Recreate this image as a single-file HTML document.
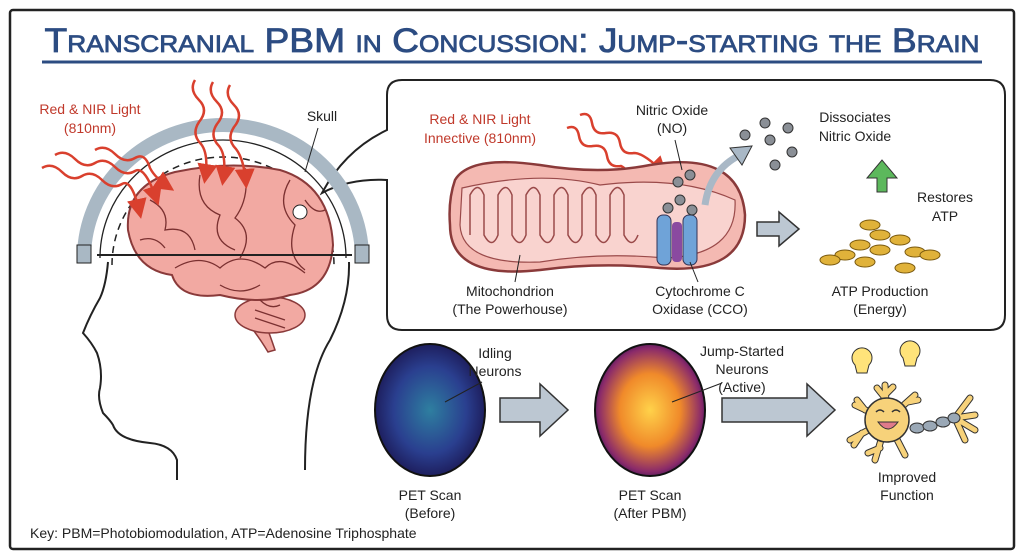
<!DOCTYPE html>
<html><head><meta charset="utf-8"><style>
body{margin:0;background:#fff;}
svg{display:block;font-family:"Liberation Sans",sans-serif;}
.t{font-size:14px;fill:#222;text-anchor:middle;}
.r{font-size:14px;fill:#c0392b;text-anchor:middle;}
</style></head><body>
<svg width="1024" height="559" viewBox="0 0 1024 559">
<defs>
<radialGradient id="pb" cx="50%" cy="50%" r="55%"><stop offset="0" stop-color="#2e7fa0"/><stop offset="0.6" stop-color="#2a3f8f"/><stop offset="1" stop-color="#1a1550"/></radialGradient>
<radialGradient id="po" cx="50%" cy="50%" r="55%"><stop offset="0" stop-color="#ffd24a"/><stop offset="0.5" stop-color="#f08a2a"/><stop offset="0.85" stop-color="#8a2a6a"/><stop offset="1" stop-color="#2a1050"/></radialGradient>
<marker id="ah" markerWidth="8" markerHeight="8" refX="6" refY="4" orient="auto"><path d="M0,0 L8,4 L0,8z" fill="#d9402e"/></marker>
</defs>
<rect x="10" y="10" width="1004" height="539" fill="none" stroke="#222" stroke-width="2.5" rx="3"/>
<text x="512" y="52" text-anchor="middle" font-size="34" fill="#2c4c82" stroke="#2c4c82" stroke-width="0.8" style="font-variant:small-caps" textLength="935" lengthAdjust="spacingAndGlyphs">Transcranial PBM in Concussion: Jump-starting the Brain</text>
<line x1="42" y1="62" x2="982" y2="62" stroke="#2c4c82" stroke-width="3"/>
<!-- right box -->
<path d="M402,80 H990 Q1005,80 1005,95 V315 Q1005,330 990,330 H402 Q387,330 387,315 V180 Q350,178 322,193 Q345,150 387,130 V95 Q387,80 402,80Z" fill="#fff" stroke="#222" stroke-width="2"/>
<!-- head silhouette -->
<path d="M108,262 Q106,285 100,298 Q90,315 83,333 Q92,343 97,353 Q103,370 100,388 Q97,398 103,413 Q110,420 113,425 Q118,440 150,443 Q172,445 177,460 L177,480" fill="none" stroke="#222" stroke-width="2"/>
<path d="M349,262 Q350,300 330,340 Q305,380 305,470" fill="none" stroke="#222" stroke-width="2"/>
<!-- skull -->
<path d="M84,258 A139,133 0 0 1 362,258" fill="none" stroke="#a9b8c4" stroke-width="14"/>
<path d="M77,245 h14 v18 h-14z M355,245 h14 v18 h-14z" fill="#a9b8c4" stroke="#222"/>
<path d="M100,258 A123,118 0 0 1 346,258" fill="none" stroke="#222" stroke-width="1.3"/>
<path d="M112,265 A111,108 0 0 1 334,265" fill="none" stroke="#222" stroke-width="1.5" stroke-dasharray="7,5"/>
<!-- brain -->
<path d="M255,300 Q265,320 275,350 L268,352 Q255,330 240,315z" fill="#f2a9a2" stroke="#8a3a3a" stroke-width="1.5"/>
<ellipse cx="270" cy="315" rx="35" ry="18" fill="#f2a9a2" stroke="#8a3a3a" stroke-width="1.5"/>
<path d="M128,230 Q125,185 175,172 Q230,160 280,170 Q330,185 333,245 Q330,290 290,295 Q260,305 220,295 Q180,300 172,275 Q135,270 128,230Z" fill="#f2a9a2" stroke="#8a3a3a" stroke-width="2"/>
<g fill="none" stroke="#7a3030" stroke-width="1.3">
<path d="M150,200 q20,10 15,30 q25,-5 30,20 M200,175 q-5,30 20,40 q-10,25 15,35 M245,168 q5,30 -10,50 q20,15 5,40 M290,180 q-15,25 5,45 q-10,30 10,45 M175,268 q25,-15 45,0 q20,-18 45,0 q15,-15 40,5 M220,285 q20,12 40,0 M140,240 q15,-5 25,8 M305,200 q10,15 20,10 M260,300 q10,10 20,5 M255,310 l30,10 M255,318 l30,10"/>
</g>
<line x1="97" y1="255" x2="352" y2="255" stroke="#222" stroke-width="2"/>
<circle cx="300" cy="212" r="7" fill="#fff" stroke="#222"/>
<!-- red light arrows -->
<g fill="none" stroke="#d9402e" stroke-width="2.5" marker-end="url(#ah)">
<path d="M42,168 q10,-6 20,4 q10,10 20,4 q10,-6 20,4 q10,10 20,4 q10,-6 18,30"/>
<path d="M55,155 q10,-6 20,4 q10,10 20,4 q10,-6 20,4 q10,10 20,4 q10,-6 22,30"/>
<path d="M95,150 q10,-6 20,4 q10,10 20,4 q10,-6 15,10 q5,10 20,20"/>
<path d="M195,80 q-6,10 4,20 q10,10 0,22 q-8,12 2,22 q8,10 4,35"/>
<path d="M213,82 q-6,10 4,20 q10,10 0,22 q-8,12 2,22 q8,10 4,35"/>
<path d="M230,85 q-6,10 4,20 q10,10 0,22 q-8,12 2,22 q8,10 10,35"/>
<path d="M580,115 q10,-4 12,8 q2,12 14,10 q12,-2 14,10 q2,12 14,10 q10,0 30,20"/>
<path d="M567,128 q10,-4 12,8 q2,12 14,10 q12,-2 14,10 q2,12 14,10 q10,5 35,38"/>
</g>
<text class="r" x="90" y="114">Red &amp; NIR Light</text>
<text class="r" x="90" y="133">(810nm)</text>
<text class="t" x="322" y="121">Skull</text>
<line x1="318" y1="128" x2="305" y2="172" stroke="#222"/>
<text class="r" x="480" y="124">Red &amp; NIR Light</text>
<text class="r" x="480" y="143">Innective (810nm)</text>
<!-- mitochondrion -->
<path d="M455,180 Q470,155 540,165 Q600,175 650,165 Q740,150 745,215 Q745,275 660,268 Q600,262 540,270 Q450,280 450,225 Q448,200 455,180Z" fill="#f4b9b2" stroke="#8a3a3a" stroke-width="2.5"/>
<path d="M462,188 Q540,170 600,185 Q680,175 735,200 Q738,255 665,258 Q600,252 540,262 Q462,265 460,225Z" fill="#f9d3cf" stroke="#9a4a4a" stroke-width="1.2"/>
<path d="M470,235 v-40 q8,-15 14,0 v40 q8,15 14,0 v-40 q8,-15 14,0 v40 q8,15 14,0 v-40 q8,-15 14,0 v40 q8,15 14,0 v-40 q8,-15 14,0 v40 q8,15 14,0 v-40 q8,-15 14,0 v40 q8,15 14,0 v-40 q8,-15 14,0 v40 q8,15 14,0" fill="none" stroke="#9a4a4a" stroke-width="1.5"/>
<rect x="657" y="215" width="14" height="50" rx="6" fill="#6fa3d8" stroke="#335"/>
<rect x="683" y="215" width="14" height="50" rx="6" fill="#6fa3d8" stroke="#335"/>
<rect x="672" y="222" width="10" height="40" rx="4" fill="#8a4aa0"/>
<g fill="#8a8f96" stroke="#333"><circle cx="668" cy="208" r="5"/><circle cx="680" cy="200" r="5"/><circle cx="692" cy="210" r="5"/><circle cx="678" cy="182" r="5"/><circle cx="690" cy="175" r="5"/>
<circle cx="765" cy="123" r="5"/><circle cx="745" cy="135" r="5"/><circle cx="770" cy="140" r="5"/><circle cx="788" cy="128" r="5"/><circle cx="792" cy="152" r="5"/><circle cx="775" cy="165" r="5"/></g>
<path d="M705,205 Q710,170 740,155" fill="none" stroke="#a9b8c6" stroke-width="7"/>
<path d="M730,148 L752,146 L742,165z" fill="#a9b8c6" stroke="#333"/>
<text class="t" x="672" y="115">Nitric Oxide</text><text class="t" x="672" y="133">(NO)</text>
<line x1="675" y1="140" x2="682" y2="170" stroke="#222"/>
<text class="t" x="855" y="122">Dissociates</text><text class="t" x="855" y="141">Nitric Oxide</text>
<path d="M757,222 h22 v-10 l20,17 l-20,17 v-10 h-22z" fill="#bcc7d2" stroke="#333" stroke-width="1.5"/>
<path d="M877,192 v-14 h-10 l15,-18 l15,18 h-10 v14z" fill="#5cb85c" stroke="#333"/>
<text class="t" x="945" y="202">Restores</text><text class="t" x="945" y="221">ATP</text>
<g fill="#e0b23a" stroke="#7a5a10"><ellipse cx="870" cy="225" rx="10" ry="5"/><ellipse cx="880" cy="235" rx="10" ry="5"/><ellipse cx="860" cy="245" rx="10" ry="5"/><ellipse cx="900" cy="240" rx="10" ry="5"/><ellipse cx="880" cy="250" rx="10" ry="5"/><ellipse cx="845" cy="255" rx="10" ry="5"/><ellipse cx="915" cy="252" rx="10" ry="5"/><ellipse cx="830" cy="260" rx="10" ry="5"/><ellipse cx="930" cy="255" rx="10" ry="5"/><ellipse cx="905" cy="268" rx="10" ry="5"/><ellipse cx="865" cy="262" rx="10" ry="5"/></g>
<text class="t" x="510" y="296">Mitochondrion</text><text class="t" x="510" y="314">(The Powerhouse)</text>
<line x1="515" y1="282" x2="520" y2="255" stroke="#222"/>
<text class="t" x="700" y="296">Cytochrome C</text><text class="t" x="700" y="314">Oxidase (CCO)</text>
<line x1="698" y1="282" x2="690" y2="262" stroke="#222"/>
<text class="t" x="880" y="296">ATP Production</text><text class="t" x="880" y="314">(Energy)</text>
<!-- PET -->
<ellipse cx="430" cy="410" rx="55" ry="66" fill="url(#pb)" stroke="#111" stroke-width="2"/>
<ellipse cx="650" cy="410" rx="55" ry="66" fill="url(#po)" stroke="#111" stroke-width="2"/>
<path d="M500,398 h40 v-14 l28,26 l-28,26 v-14 h-40z" fill="#bcc7d2" stroke="#333" stroke-width="1.5"/>
<path d="M722,398 h85 v-14 l28,26 l-28,26 v-14 h-85z" fill="#bcc7d2" stroke="#333" stroke-width="1.5"/>
<text class="t" x="495" y="358">Idling</text><text class="t" x="495" y="376">Neurons</text>
<line x1="482" y1="382" x2="445" y2="402" stroke="#222"/>
<text class="t" x="742" y="356">Jump-Started</text><text class="t" x="742" y="374">Neurons</text><text class="t" x="742" y="392">(Active)</text>
<line x1="722" y1="383" x2="672" y2="402" stroke="#222"/>
<text class="t" x="430" y="500">PET Scan</text><text class="t" x="430" y="518">(Before)</text>
<text class="t" x="650" y="500">PET Scan</text><text class="t" x="650" y="518">(After PBM)</text>
<!-- neuron -->
<g fill="none" stroke-linecap="round">
<g stroke="#333" stroke-width="7"><path d="M887,420 L885,385 M885,398 l-8,-10 M885,395 l8,-8 M887,420 L855,405 M865,410 l-8,-10 M887,420 L850,440 M862,433 l-8,12 M887,420 L875,460 M880,448 l-12,5 M887,420 L905,455 M887,420 L915,395 M908,402 l10,-2"/><path d="M955,418 l15,-20 M955,418 l20,-3 M955,418 l20,12 M955,418 l10,22"/></g>
<g stroke="#f7d27a" stroke-width="5"><path d="M887,420 L885,385 M885,398 l-8,-10 M885,395 l8,-8 M887,420 L855,405 M865,410 l-8,-10 M887,420 L850,440 M862,433 l-8,12 M887,420 L875,460 M880,448 l-12,5 M887,420 L905,455 M887,420 L915,395 M908,402 l10,-2"/><path d="M955,418 l15,-20 M955,418 l20,-3 M955,418 l20,12 M955,418 l10,22"/></g>
</g>
<circle cx="887" cy="420" r="22" fill="#f7d27a" stroke="#333" stroke-width="1.5"/>
<g fill="#9aa8b6" stroke="#333"><ellipse cx="917" cy="428" rx="7" ry="5"/><ellipse cx="930" cy="426" rx="7" ry="5"/><ellipse cx="943" cy="422" rx="7" ry="5"/><ellipse cx="954" cy="418" rx="6" ry="5"/></g>
<path d="M876,412 q4,-4 8,0 M892,412 q4,-4 8,0" fill="none" stroke="#333" stroke-width="1.5"/>
<path d="M878,422 q10,14 20,0z" fill="#e07a8a" stroke="#333"/>
<path d="M855,365 a10,10 0 1 1 14,0 l-2,8 h-10z" fill="#ffe37a" stroke="#333"/>
<path d="M903,358 a10,10 0 1 1 14,0 l-2,8 h-10z" fill="#ffe37a" stroke="#333"/>
<text class="t" x="907" y="482">Improved</text><text class="t" x="907" y="500">Function</text>
<text x="30" y="538" font-size="14" fill="#222">Key: PBM=Photobiomodulation, ATP=Adenosine Triphosphate</text>
</svg>
</body></html>
